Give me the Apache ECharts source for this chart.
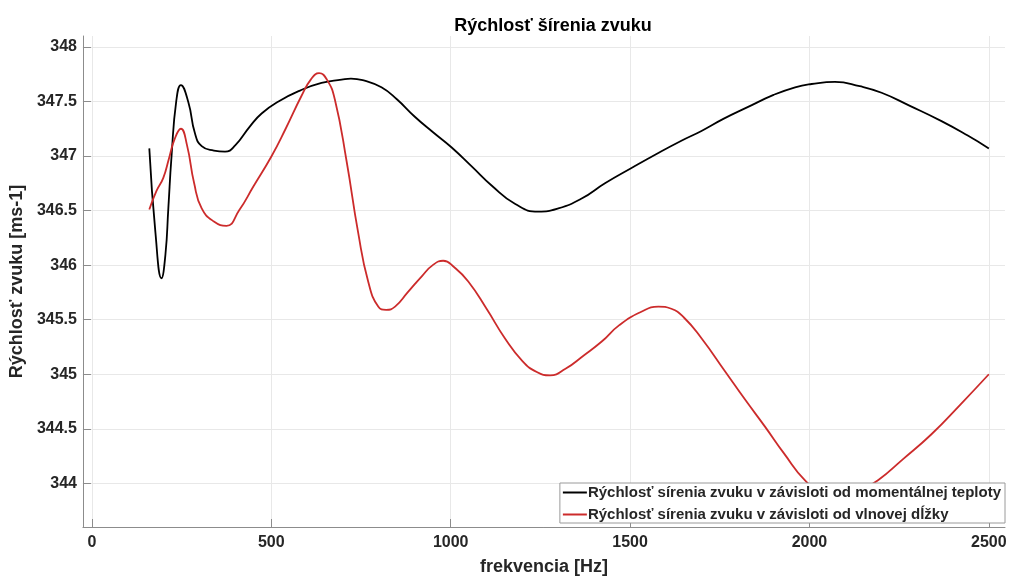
<!DOCTYPE html>
<html>
<head>
<meta charset="utf-8">
<script src="https://cdn.jsdelivr.net/npm/echarts@6/dist/echarts.min.js"></script>
<style>
  html, body { margin: 0; padding: 0; background: #fff; }
  #chart { width: 1010px; height: 581px; }
</style>
</head>
<body>
<div id="chart"></div>
<script>
// hodnoty odčítané z grafu: [frekvencia Hz, rýchlosť m/s]
var teplotaData = [
  [160, 347.07], [177, 346.3], [194, 345.88], [205, 346.1], [213, 346.52], [222, 347.0],
  [235, 347.5], [248, 347.65], [269, 347.49], [287, 347.21], [306, 347.09], [340, 347.05],
  [371, 347.04], [400, 347.1], [440, 347.27], [473, 347.39], [520, 347.5], [580, 347.6],
  [640, 347.67], [696, 347.70], [722, 347.71], [760, 347.69], [807, 347.63], [850, 347.52],
  [900, 347.36], [950, 347.22], [1002, 347.08], [1060, 346.9], [1114, 346.73], [1180, 346.56],
  [1244, 346.49], [1300, 346.52], [1365, 346.61], [1430, 346.75], [1504, 346.89], [1580, 347.03],
  [1643, 347.14], [1699, 347.23], [1760, 347.34], [1829, 347.45], [1900, 347.56], [1960, 347.63],
  [2006, 347.66], [2071, 347.68], [2140, 347.64], [2201, 347.58], [2280, 347.46], [2368, 347.32],
  [2440, 347.19], [2500, 347.07]
];
var vlnaData = [
  [160, 346.51], [180, 346.68], [199, 346.80], [215, 346.98], [230, 347.15], [248, 347.25],
  [265, 347.1], [285, 346.75], [306, 346.52], [340, 346.4], [375, 346.36], [410, 346.5],
  [450, 346.72], [501, 347.00], [540, 347.25], [584, 347.55], [610, 347.7], [633, 347.76],
  [655, 347.7], [677, 347.52], [710, 346.95], [742, 346.30], [770, 345.85], [798, 345.62],
  [820, 345.59], [845, 345.62], [880, 345.75], [920, 345.9], [950, 346.0], [979, 346.04],
  [1010, 345.98], [1049, 345.85], [1100, 345.6], [1151, 345.33], [1200, 345.12], [1240, 345.02],
  [1277, 344.99], [1320, 345.05], [1370, 345.17], [1421, 345.30], [1470, 345.45], [1530, 345.57],
  [1579, 345.62], [1615, 345.6], [1650, 345.52], [1699, 345.33], [1764, 345.03], [1820, 344.77],
  [1876, 344.52], [1930, 344.27], [1987, 344.03], [2040, 343.9], [2090, 343.87], [2140, 343.93],
  [2192, 344.03], [2260, 344.22], [2340, 344.45], [2420, 344.72], [2500, 345.0]
];
var xTicks = [0, 500, 1000, 1500, 2000, 2500];
var yTicks = [344, 344.5, 345, 345.5, 346, 346.5, 347, 347.5, 348];
var nazvy = [
  'Rýchlosť sírenia zvuku v závisloti od momentálnej teploty',
  'Rýchlosť sírenia zvuku v závisloti od vlnovej dĺžky'
];

var font = '"Liberation Sans", Arial, sans-serif';
var txt = '#262626';
var axisCol = '#8c8c8c';

var myChart = echarts.init(document.getElementById('chart'));
var option = {
  backgroundColor: '#fff',
  animation: false,
  title: {
    text: 'Rýchlosť šírenia zvuku',
    left: 548,
    textAlign: 'center',
    top: 12,
    textStyle: { fontFamily: font, fontSize: 18, fontWeight: 'bold', color: '#000' }
  },
  grid: { left: 82, right: 5, top: 36, bottom: 50, containLabel: false },
  legend: {
    orient: 'vertical',
    right: 5,
    bottom: 58,
    data: nazvy,
    icon: 'rect',
    itemWidth: 24,
    itemHeight: 2,
    itemGap: 7,
    padding: [2, 4, 1, 3],
    backgroundColor: '#fff',
    borderColor: '#9a9a9a',
    borderWidth: 1,
    textStyle: { fontFamily: font, fontSize: 15, fontWeight: 'bold', color: txt, padding: [0, 0, 0, -4] }
  },
  xAxis: {
    type: 'value',
    min: -25,
    max: 2545,
    name: 'frekvencia [Hz]',
    nameLocation: 'middle',
    nameGap: 31,
    nameTextStyle: { fontFamily: font, fontSize: 18, fontWeight: 'bold', color: txt },
    axisLine: { show: true, onZero: false, lineStyle: { color: axisCol, width: 1 } },
    axisTick: { show: true, inside: true, length: 8, customValues: xTicks, lineStyle: { color: axisCol } },
    axisLabel: {
      customValues: xTicks, margin: 8, fontFamily: font, fontSize: 16, fontWeight: 'bold', color: txt,
      formatter: function (v) { return String(v); }
    },
    splitLine: { show: true, lineStyle: { color: '#e8e8e8', width: 1 } }
  },
  yAxis: {
    type: 'value',
    min: 343.6,
    max: 348.1,
    name: 'Rýchlosť zvuku [ms-1]',
    nameLocation: 'middle',
    nameGap: 52,
    nameTextStyle: { fontFamily: font, fontSize: 18, fontWeight: 'bold', color: txt },
    axisLine: { show: true, onZero: false, lineStyle: { color: axisCol, width: 1 } },
    axisTick: { show: true, inside: true, length: 8, customValues: yTicks, lineStyle: { color: axisCol } },
    axisLabel: {
      customValues: yTicks, margin: 6, fontFamily: font, fontSize: 16, fontWeight: 'bold', color: txt,
      formatter: function (v) { return String(v); }
    },
    splitLine: { show: true, lineStyle: { color: '#e8e8e8', width: 1 } }
  },
  series: [
    {
      name: nazvy[0],
      type: 'line',
      data: teplotaData,
      smooth: 0.5,
      symbol: 'none',
      lineStyle: { color: '#000', width: 1.8 },
      itemStyle: { color: '#000' }
    },
    {
      name: nazvy[1],
      type: 'line',
      data: vlnaData,
      smooth: 0.5,
      symbol: 'none',
      lineStyle: { color: '#cc2b2b', width: 1.8 },
      itemStyle: { color: '#cc2b2b' }
    }
  ]
};
myChart.setOption(option);
</script>
</body>
</html>
